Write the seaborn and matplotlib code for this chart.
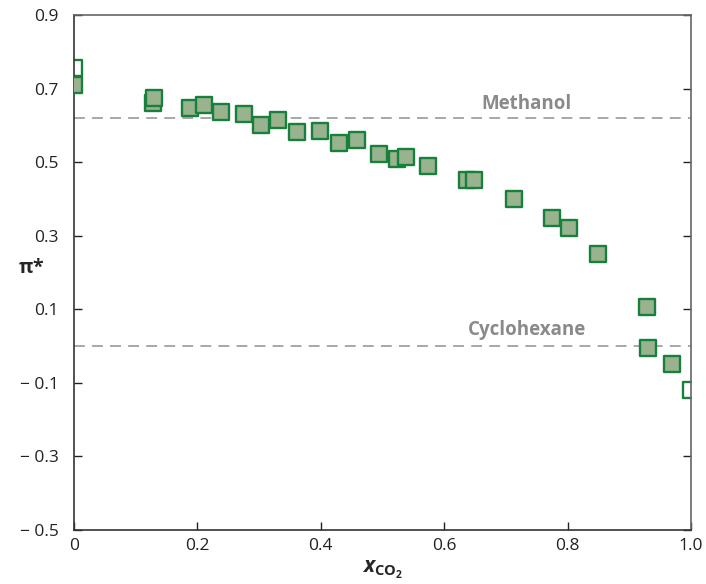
import numpy as np
import pandas as pd
import matplotlib
matplotlib.use("Agg")
import matplotlib.pyplot as plt
import seaborn as sns

# data
x_filled = [0.0, 0.128, 0.130, 0.188, 0.210, 0.239, 0.275, 0.303, 0.331, 0.362,
            0.398, 0.430, 0.459, 0.495, 0.524, 0.538, 0.573, 0.637, 0.649, 0.713,
            0.774, 0.802, 0.849, 0.929, 0.931, 0.969]
y_filled = [0.710, 0.662, 0.675, 0.647, 0.655, 0.635, 0.631, 0.602, 0.615, 0.582,
            0.586, 0.553, 0.560, 0.523, 0.509, 0.513, 0.490, 0.451, 0.451, 0.401,
            0.349, 0.322, 0.251, 0.107, -0.005, -0.049]
x_open = [0.0, 1.0]
y_open = [0.756, -0.120]
ref_names = ["Methanol", "Cyclohexane"]
ref_values = [0.62, 0.0]
x_ticks = [0, 0.2, 0.4, 0.6, 0.8, 1.0]
x_ticklabels = ["0", "0.2", "0.4", "0.6", "0.8", "1.0"]
y_ticks = [-0.5, -0.3, -0.1, 0.1, 0.3, 0.5, 0.7, 0.9]
y_ticklabels = ["\u2212 0.5", "\u2212 0.3", "\u2212 0.1", "0.1", "0.3", "0.5", "0.7", "0.9"]

sns.set_style("white")
plt.rcParams['font.family'] = ['Open Sans', 'DejaVu Sans']
plt.rcParams['mathtext.fontset'] = 'custom'
plt.rcParams['mathtext.rm'] = 'Open Sans'
plt.rcParams['mathtext.bf'] = 'Open Sans:bold'
plt.rcParams['mathtext.it'] = 'Open Sans:italic'
plt.rcParams['mathtext.bfit'] = 'Open Sans:bold:italic'

fig = plt.figure(figsize=(7.06, 5.84), dpi=100)
ax = fig.add_axes([74/706, 54/584, 617/706, 515/584])

edge = "#16803c"
face = "#98b38e"

for name, val in zip(ref_names, ref_values):
    ax.axhline(val, color="#a0a0a0", lw=1.3, ls=(0, (6, 4)), zorder=1)

df_open = pd.DataFrame({"x": x_open, "y": y_open})
df_fill = pd.DataFrame({"x": x_filled, "y": y_filled})
sns.scatterplot(data=df_open, x="x", y="y", ax=ax, marker="s", s=125,
                facecolor="white", edgecolor=edge, linewidth=1.7, zorder=2)
sns.scatterplot(data=df_fill, x="x", y="y", ax=ax, marker="s", s=125,
                facecolor=face, edgecolor=edge, linewidth=1.7, zorder=3)

label_x = 0.734
label_off = [0.024, 0.03]
for name, val, off in zip(ref_names, ref_values, label_off):
    ax.text(label_x, val + off, name, color="#8a8a8a", fontsize=13.5,
            fontweight="bold", ha="center", va="baseline")

ax.set_xlim(0, 1.0)
ax.set_ylim(-0.5, 0.9)
ax.set_xticks(x_ticks)
ax.set_xticklabels(x_ticklabels)
ax.set_yticks(y_ticks)
ax.set_yticklabels(y_ticklabels)
ax.tick_params(axis="both", direction="in", length=6, width=1, colors="#222222",
               labelsize=12.5, labelcolor="#222222")
ax.tick_params(axis="y", right=True, left=True, pad=11)
ax.tick_params(axis="x", bottom=True, top=False, pad=6)
for s in ["left", "bottom"]:
    ax.spines[s].set_color("#333333")
    ax.spines[s].set_linewidth(1.2)
for s in ["top", "right"]:
    ax.spines[s].set_color("#666666")
    ax.spines[s].set_linewidth(1.2)

ax.set_xlabel(r"$\mathbfit{x}_{\mathbf{CO}_{\mathbf{2}}}$", fontsize=15, labelpad=3)
ax.set_ylabel("")
fig.text(31/706, 1 - 268/584, r"$\mathbf{\pi}$*", fontsize=14, fontweight="bold",
         ha="center", va="center")

fig.savefig("out.png", dpi=100)
